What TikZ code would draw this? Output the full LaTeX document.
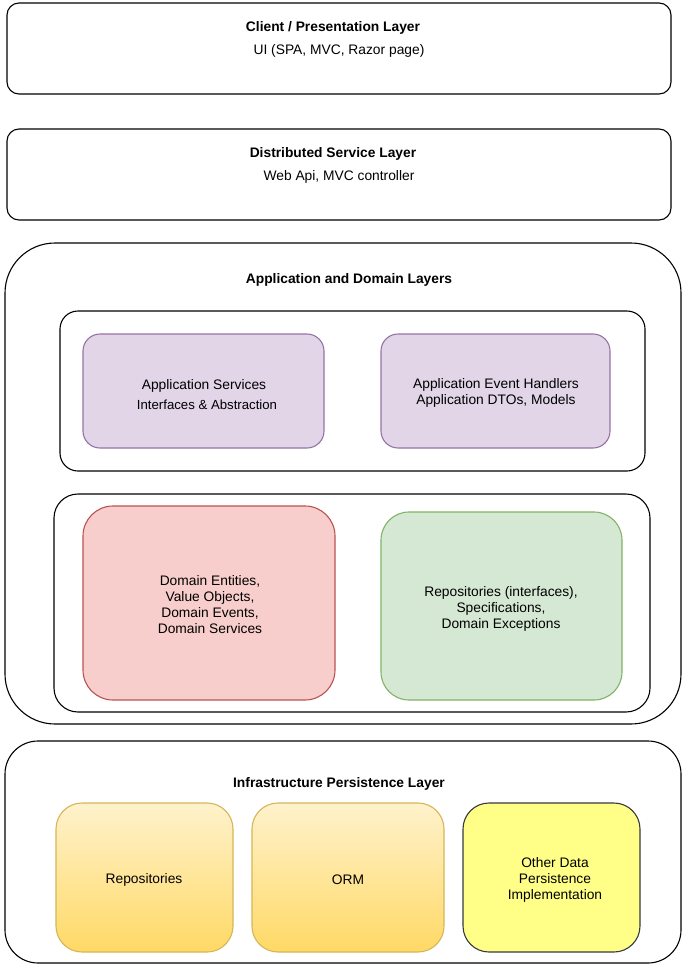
\documentclass[tikz,border=0pt]{standalone}
\usepackage{fontspec}
\setmainfont{Liberation Sans}
\begin{document}
\begin{tikzpicture}[x=1pt,y=-1pt,
  box/.style={draw=black, line width=1.1pt, fill=white, inner sep=0pt},
  lbl/.style={inner sep=0pt, yshift=-1.5pt, font=\fontsize{13.8}{16}\selectfont, align=center},
  ttl/.style={inner sep=0pt, yshift=-1.5pt, font=\fontsize{13.8}{16}\selectfont\bfseries, align=center}]
\definecolor{purfill}{HTML}{E1D5E7}\definecolor{purline}{HTML}{9673A6}
\definecolor{redfill}{HTML}{F8CECC}\definecolor{redline}{HTML}{B85450}
\definecolor{grnfill}{HTML}{D5E8D4}\definecolor{grnline}{HTML}{82B366}
\definecolor{yeltop}{HTML}{FFF2CC}\definecolor{yelbot}{HTML}{FFD966}\definecolor{yelline}{HTML}{D6B656}
\definecolor{lemfill}{HTML}{FFFF88}\definecolor{lemline}{HTML}{36393D}
\useasboundingbox (0,0) rectangle (688,972);
% layer 1
\node[box, rounded corners=12pt, minimum width=664pt, minimum height=91pt] (client) at (339,48.5) {};
\node[ttl] (clientT) at (333,26) {Client / Presentation Layer};
\node[lbl] (clientS) at (339,49) {UI (SPA, MVC, Razor page)};
% layer 2
\node[box, rounded corners=12pt, minimum width=664pt, minimum height=91pt] (dist) at (339,174.5) {};
\node[ttl] (distT) at (333,152) {Distributed Service Layer};
\node[lbl] (distS) at (339,175) {Web Api, MVC controller};
% layer 3
\node[box, rounded corners=50pt, minimum width=676pt, minimum height=481pt] (app) at (343,483.5) {};
\node[ttl] (appT) at (349,278) {Application and Domain Layers};
\node[box, rounded corners=18pt, minimum width=585pt, minimum height=160pt] (appIn) at (352.5,391) {};
\node[box, draw=purline, fill=purfill, rounded corners=17pt, minimum width=241pt, minimum height=114pt] (appSvc) at (203.5,391) {};
\node[lbl] (appSvcA) at (204,384) {Application Services};
\node[lbl, font=\fontsize{13.2}{16}\selectfont] (appSvcB) at (207,403) {Interfaces \& Abstraction};
\node[box, draw=purline, fill=purfill, rounded corners=17pt, minimum width=229pt, minimum height=114pt] (appEvt) at (495.5,391) {};
\node[lbl] (appEvtT) at (496,391) {Application Event Handlers\\Application DTOs, Models};
\node[box, rounded corners=24pt, minimum width=596pt, minimum height=218pt] (domIn) at (352,603) {};
\node[box, draw=redline, fill=redfill, rounded corners=30pt, minimum width=252pt, minimum height=194pt] (dom) at (209,603) {};
\node[lbl] (domT) at (210,603) {Domain Entities,\\Value Objects,\\Domain Events,\\Domain Services};
\node[box, draw=grnline, fill=grnfill, rounded corners=28pt, minimum width=241pt, minimum height=188pt] (repoI) at (501.5,606) {};
\node[lbl] (repoIT) at (501,607) {Repositories (interfaces),\\Specifications,\\Domain Exceptions};
% layer 4
\node[box, rounded corners=33pt, minimum width=676pt, minimum height=222pt] (infra) at (343,852) {};
\node[ttl] (infraT) at (339,782) {Infrastructure Persistence Layer};
\node[box, draw=yelline, top color=yeltop, bottom color=yelbot, rounded corners=26pt, minimum width=177pt, minimum height=149pt] (repos) at (144.5,877.5) {};
\node[lbl] (reposT) at (144,878) {Repositories};
\node[box, draw=yelline, top color=yeltop, bottom color=yelbot, rounded corners=26pt, minimum width=192pt, minimum height=149pt] (orm) at (348,877.5) {};
\node[lbl] (ormT) at (348,878) {ORM};
\node[box, draw=lemline, fill=lemfill, rounded corners=26pt, minimum width=177pt, minimum height=149pt] (other) at (551.5,877.5) {};
\node[lbl] (otherT) at (555,878) {Other Data\\Persistence\\Implementation};
\end{tikzpicture}
\end{document}
